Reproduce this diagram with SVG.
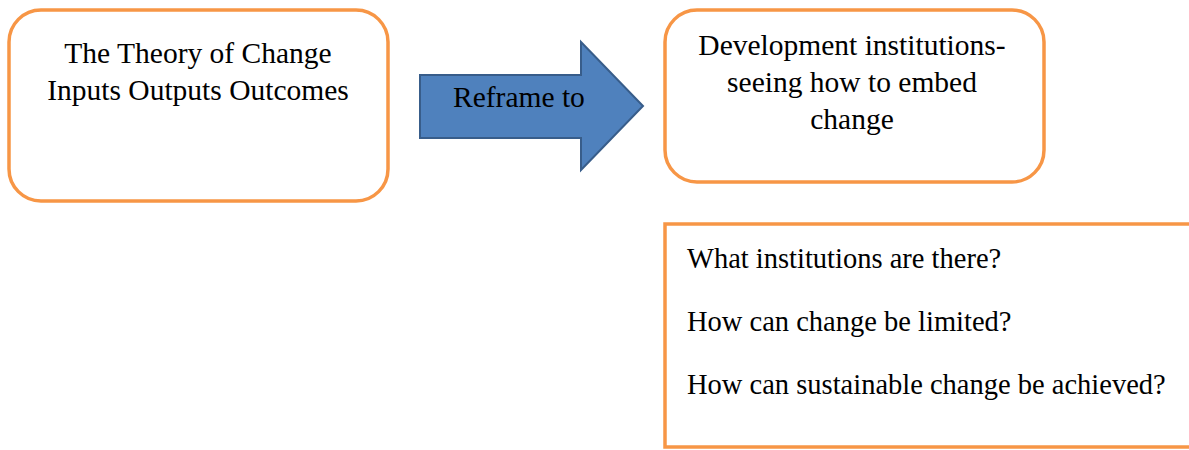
<svg xmlns="http://www.w3.org/2000/svg" width="1189" height="450" viewBox="0 0 1189 450">
  <style>
    .box { fill: #FFFFFF; stroke: #F79646; stroke-width: 3.5; }
    .lbl { font-family: "Liberation Serif", "Times New Roman", serif; font-size: 29.5px; fill: #000000; }
    .q { font-size: 28.5px; }
    .mid { text-anchor: middle; }
    .arrow { fill: #4F81BD; stroke: #385D8A; stroke-width: 2; stroke-linejoin: miter; }
  </style>
  <rect width="1189" height="450" fill="#FFFFFF"/>

  <g id="theory-of-change">
    <rect class="box" x="9" y="10" width="379" height="191" rx="32" ry="32"/>
    <text class="lbl mid" x="198" y="63">The Theory of Change</text>
    <text class="lbl mid" x="198" y="100">Inputs Outputs Outcomes</text>
  </g>

  <g id="connectors">
    <g id="reframe-arrow">
      <path class="arrow" d="M420,75 L581,75 L581,42 L643,106 L581,170 L581,138 L420,138 Z"/>
      <text class="lbl" x="453" y="107">Reframe to</text>
    </g>
  </g>

  <g id="development-institutions">
    <rect class="box" x="665" y="10" width="379" height="172" rx="32" ry="32"/>
    <text class="lbl mid" x="852" y="55">Development institutions-</text>
    <text class="lbl mid" x="852" y="92">seeing how to embed</text>
    <text class="lbl mid" x="852" y="129">change</text>
  </g>

  <g id="questions">
    <rect class="box" x="665" y="224" width="560" height="223" stroke-width="4"/>
    <text class="lbl q" x="687" y="268">What institutions are there?</text>
    <text class="lbl q" x="687" y="331">How can change be limited?</text>
    <text class="lbl q" x="687" y="394">How can sustainable change be achieved?</text>
  </g>
</svg>
